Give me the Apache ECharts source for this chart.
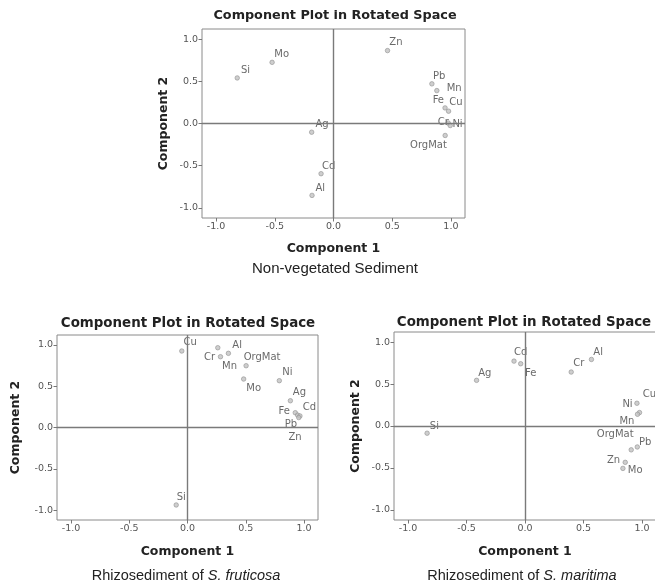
<!DOCTYPE html>
<html><head><meta charset="utf-8">
<script src="https://cdn.jsdelivr.net/npm/echarts@6/dist/echarts.min.js"></script>
<style>html,body{margin:0;padding:0;background:#fff}#c{width:655px;height:585px}</style>
</head><body><div id="c"></div>
<script>
// ---- data ----
const tickValues = [-1.0, -0.5, 0.0, 0.5, 1.0];

// Non-vegetated Sediment
const namesA = ['Zn','Mo','Si','Pb','Mn','Fe','Cu','Cr','Ni','OrgMat','Ag','Cd','Al'];
const comp1A = [0.46,-0.523,-0.82,0.838,0.88,0.95,0.98,0.977,0.994,0.951,-0.186,-0.106,-0.183];
const comp2A = [0.864,0.725,0.54,0.47,0.39,0.185,0.146,0.006,-0.024,-0.142,-0.103,-0.595,-0.852];

// Rhizosediment of S. fruticosa
const namesB = ['Cu','Mn','Cr','Al','OrgMat','Mo','Ni','Ag','Fe','Pb','Cd','Zn','Si'];
const comp1B = [-0.049,0.26,0.283,0.351,0.503,0.482,0.788,0.883,0.925,0.945,0.965,0.955,-0.097];
const comp2B = [0.926,0.966,0.857,0.898,0.748,0.587,0.567,0.324,0.179,0.15,0.14,0.12,-0.938];

// Rhizosediment of S. maritima
const namesC = ['Cd','Fe','Ag','Cr','Al','Si','Cu','Ni','Mn','OrgMat','Pb','Zn','Mo'];
const comp1C = [-0.094,-0.037,-0.414,0.395,0.568,-0.837,0.957,0.979,0.962,0.908,0.96,0.857,0.837];
const comp2C = [0.773,0.742,0.544,0.643,0.793,-0.086,0.271,0.16,0.14,-0.284,-0.25,-0.433,-0.505];

// ---- label placement (style) ----
const offA = [[8.4,-8.3],[9.6,-8.4],[8.3,-7.3],[7.3,-7.6],[17.3,-1.7],[-6.7,-7.3],[7.4,-8.4],[-5,-0.8],[7.3,-1],[-16.7,9.7],[10.4,-7.7],[7.6,-7.6],[8.3,-7]];
const offB = [[8.4,-8.3],[11.7,18.3],[-11,0.6],[8.7,-8.3],[16,-8.4],[10,9.3],[8,-8.7],[9,-8.7],[-11,-1.7],[-6.6,8.9],[9.4,-8.2],[-3.7,19.7],[5,-7.3]];
const offC = [[6.7,-8.4],[10,9.7],[8.3,-7],[7.6,-8.4],[6.7,-7.3],[7.3,-7.3],[12.6,-9],[-12,-8.3],[-10.6,6.7],[-16,-15.7],[7.9,-4.6],[-11.7,-2.3],[12.3,2.4]];

const grids = [
  {left: 202, top: 29, width: 263, height: 189},
  {left: 57, top: 335, width: 261, height: 185},
  {left: 394, top: 332, width: 262, height: 188}
];
const yNameGap = [32, 35, 32];
const xNameGap = [24, 25.5, 25.5];

const tickFont = {fontFamily: 'DejaVu Sans', fontSize: 9.5, color: '#555'};
const nameFont = {fontFamily: 'DejaVu Sans', fontWeight: 'bold', fontSize: 12.5, color: '#222'};

function mkAxis(i, isX) {
  return {
    type: 'value', gridIndex: i, min: -1.12, max: 1.12,
    name: isX ? 'Component 1' : 'Component 2',
    nameLocation: 'middle',
    nameGap: isX ? xNameGap[i] : yNameGap[i],
    nameTextStyle: nameFont,
    axisLine: {show: false, onZero: false},
    splitLine: {show: false},
    axisTick: {show: true, length: 3.5, lineStyle: {color: '#777', width: 1}, customValues: tickValues},
    axisLabel: {show: true, margin: 4, customValues: tickValues, formatter: v => v.toFixed(1), ...tickFont}
  };
}

function mkSeries(i, names, c1, c2, offs) {
  return {
    type: 'scatter', xAxisIndex: i, yAxisIndex: i,
    symbol: 'circle', symbolSize: 4.5,
    itemStyle: {color: '#c2c2c2', borderColor: '#939393', borderWidth: 0.8},
    label: {show: true, position: 'inside', formatter: p => p.name,
            fontFamily: 'DejaVu Sans', fontSize: 10, color: '#444'},
    labelLayout: p => ({dx: offs[p.dataIndex][0], dy: offs[p.dataIndex][1], hideOverlap: false}),
    emphasis: {disabled: true},
    data: names.map((n, k) => ({name: n, value: [c1[k], c2[k]]})),
    markLine: {
      silent: true, symbol: 'none', animation: false,
      label: {show: false},
      lineStyle: {color: '#7a7a7a', width: 1.4, type: 'solid'},
      data: [{xAxis: 0}, {yAxis: 0}]
    }
  };
}

const titleText = 'Component Plot in Rotated Space';
const titleStyle = {font: 'bold 12.8px "DejaVu Sans"', fill: '#222', align: 'center', verticalAlign: 'middle'};
const titleStyle2 = Object.assign({}, titleStyle, {font: 'bold 13.4px "DejaVu Sans"'});
function gText(x, y, text, style) {
  return {type: 'text', x: x, y: y, silent: true, style: Object.assign({text: text}, style)};
}
const capStyle = {font: '15px "Liberation Sans"', fill: '#222', align: 'center', verticalAlign: 'middle'};
const capRich = {
  n: {fontFamily: 'Liberation Sans', fontSize: 14.5, color: '#222'},
  i: {fontFamily: 'Liberation Sans', fontSize: 14.5, fontStyle: 'italic', color: '#222'}
};

const chart = echarts.init(document.getElementById('c'), null, {renderer: 'canvas'});
chart.setOption({
  animation: false,
  backgroundColor: '#fff',
  grid: grids.map(g => Object.assign({show: true, borderColor: '#8a8a8a', borderWidth: 1, backgroundColor: 'transparent', containLabel: false, outerBoundsMode: 'none'}, g)),
  xAxis: [0,1,2].map(i => mkAxis(i, true)),
  yAxis: [0,1,2].map(i => mkAxis(i, false)),
  series: [
    mkSeries(0, namesA, comp1A, comp2A, offA),
    mkSeries(1, namesB, comp1B, comp2B, offB),
    mkSeries(2, namesC, comp1C, comp2C, offC)
  ],
  graphic: [
    gText(335, 16, titleText, titleStyle),
    gText(188, 324, titleText, titleStyle2),
    gText(524, 322.5, titleText, titleStyle2),
    gText(335, 269, 'Non-vegetated Sediment', capStyle),
    gText(186, 576, '{n|Rhizosediment of }{i|S. fruticosa}', Object.assign({}, capStyle, {rich: capRich})),
    gText(522, 576, '{n|Rhizosediment of }{i|S. maritima}', Object.assign({}, capStyle, {rich: capRich}))
  ]
});
</script>
</body></html>
